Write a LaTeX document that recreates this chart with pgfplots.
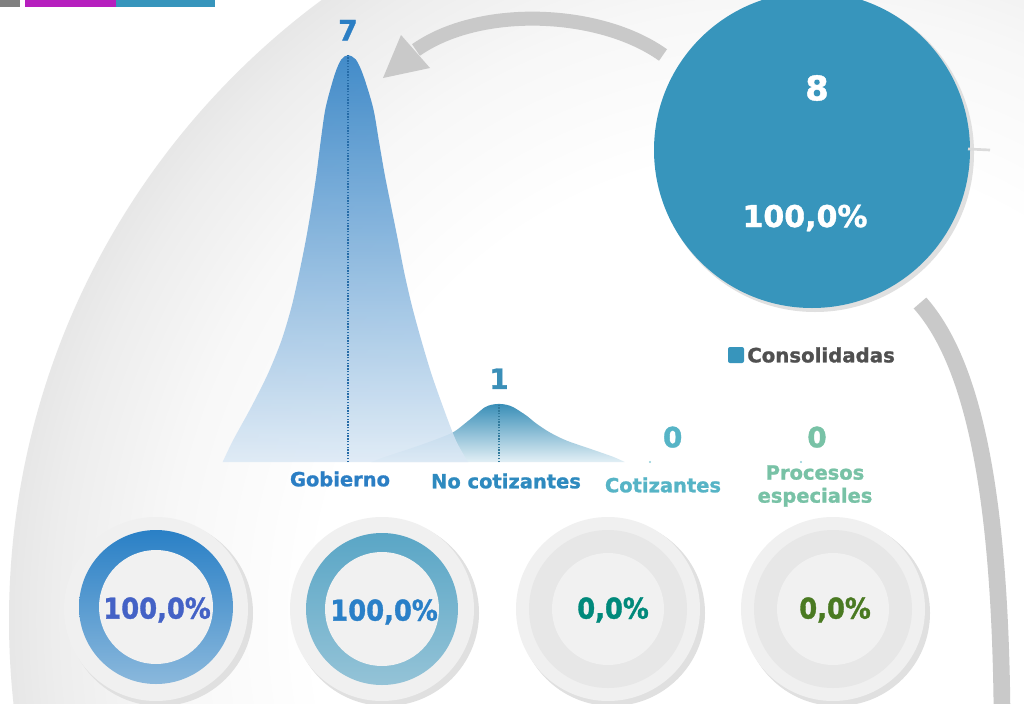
\documentclass[border=0pt]{standalone}
\usepackage{pgfplots}
\pgfplotsset{compat=1.18}
\usepackage{pgfplotstable}
\usepackage{fontspec}
\setmainfont{DejaVu Sans}[BoldFeatures={FakeBold=1.2}]
\newfontfamily\condfont{DejaVu Sans}[FakeStretch=0.9, BoldFeatures={FakeBold=1.2}]

\definecolor{gobBlue}{HTML}{2B7EC4}
\definecolor{gobBot}{HTML}{DCE9F5}
\definecolor{gobMid}{HTML}{84B6DE}
\definecolor{nocBlue}{HTML}{2E8ABF}
\definecolor{nocTop}{HTML}{3A8FB8}
\definecolor{nocMid}{HTML}{8EC2D6}
\definecolor{nocBot}{HTML}{E2EFF5}
\definecolor{cotTeal}{HTML}{56B4C6}
\definecolor{procGreen}{HTML}{78C2A6}
\definecolor{bigBlue}{HTML}{3795BC}
\definecolor{arcGray}{HTML}{C9C9C9}
\definecolor{legGray}{HTML}{505050}
\definecolor{barGray}{HTML}{808080}
\definecolor{barMag}{HTML}{B61FBE}
\definecolor{ringOneTop}{HTML}{2A80C6}
\definecolor{ringOneBot}{HTML}{8AB8DC}
\definecolor{ringTwoTop}{HTML}{5AA6C6}
\definecolor{ringTwoBot}{HTML}{94C3D7}
\definecolor{haloGray}{HTML}{F0F0F0}
\definecolor{innerGray}{HTML}{F1F1F1}
\definecolor{midGray}{HTML}{E7E7E7}
\definecolor{pctOne}{HTML}{4462C6}
\definecolor{pctTwo}{HTML}{2A80C8}
\definecolor{pctThree}{HTML}{00897B}
\definecolor{pctFour}{HTML}{4A7A22}

% tikz maps the path box onto the inner 50bp of the shading
\pgfdeclareradialshading{bgshade}{\pgfpoint{0bp}{0bp}}{%
  color(0bp)=(white); color(15bp)=(white); color(20bp)=(black!3);
  color(23.5bp)=(black!7); color(25bp)=(black!9.5); color(50bp)=(black!9.5)}

% counts per group
\pgfplotstableread{
x value
0 7
1 1
2 0
3 0
}\peaks

\tikzset{px/.style={x=0.75pt,y=-0.75pt}}

\begin{document}
\begin{tikzpicture}
\useasboundingbox (0,0) rectangle (768pt,-527.25pt);
\begin{scope}
\clip (0,0) rectangle (768pt,-527.25pt);

\begin{scope}[px]
\fill[white] (0,0) rectangle (1024,703);
\shade[shading=bgshade] (780,620) circle (771);

% top colour bar
\fill[barGray] (0,0) rectangle (20,7);
\fill[barMag] (25,0) rectangle (116,7);
\fill[bigBlue] (116,0) rectangle (215,7);

% grey arrows
\draw[arcGray, line width=10.5pt] (663,55) .. controls (600,10) and (480,5) .. (416,50);
\fill[arcGray] (383,78) -- (401,35) -- (430,68) -- cycle;
\draw[arcGray, line width=12.5pt] (920,303) .. controls (975,365) and (1000,500) .. (1002,712);

% total circle
\fill[black!12] (815,153) circle (159);
\fill[bigBlue] (812,150) circle (158);
\draw[black!14, line width=2pt] (968,149) -- (990,150);
\node[text=white, font=\bfseries\fontsize{25.5}{30}\selectfont] at (817,88) {8};
\node[text=white, font=\bfseries\fontsize{22.5}{27}\selectfont] at (805,218) {100,0\%};

% legend
\fill[bigBlue, rounded corners=1.5pt] (728,347) rectangle (744,363);
\node[anchor=west, inner sep=0, text=legGray, font=\bfseries\fontsize{14.8}{17}\selectfont] at (747,355) {Consolidadas};
\end{scope}

% peaks: axis box corner (xmin,ymin) sits at pixel (212.1,462)
\begin{axis}[at={(159.075pt,-346.5pt)}, anchor=south west, x=113.25pt, y=43.575pt,
    xmin=-0.9, xmax=3.6, ymin=0, ymax=7.5, hide axis, clip=false]
  \addplot[draw=none, smooth, tension=0.5, top color=nocTop, middle color=nocMid, bottom color=nocBot]
    coordinates {
      (0.155,0) (0.245,0.09) (0.411,0.23) (0.563,0.37) (0.695,0.51) (0.773,0.66)
      (0.839,0.80) (0.905,0.94) (0.95,0.985) (1,1) (1.05,0.985) (1.097,0.94) (1.181,0.80)
      (1.248,0.66) (1.336,0.51) (1.446,0.37) (1.601,0.23) (1.755,0.09) (1.832,0)
    } \closedcycle;
  \addplot[draw=none, smooth, tension=0.5, fill opacity=0.88, top color=gobBlue, middle color=gobMid, bottom color=gobBot]
    coordinates {
      (-0.83,0) (-0.762,0.37) (-0.640,0.95) (-0.530,1.52) (-0.441,2.09) (-0.375,2.66)
      (-0.325,3.23) (-0.280,3.81) (-0.242,4.38) (-0.209,4.95) (-0.181,5.52) (-0.148,6.10)
      (-0.088,6.67) (-0.044,6.93) (0,7) (0.051,6.93) (0.099,6.67) (0.166,6.10)
      (0.205,5.52) (0.243,4.95) (0.287,4.38) (0.331,3.81) (0.375,3.23) (0.426,2.66)
      (0.486,2.09) (0.552,1.52) (0.629,0.95) (0.715,0.37) (0.795,0)
    } \closedcycle;
  \addplot[ycomb, densely dotted, line width=1.1pt, draw=gobBlue!85!black, no marks] coordinates {(0,7)};
  \addplot[ycomb, densely dotted, line width=1.1pt, draw=nocTop!85!black, no marks] coordinates {(1,1)};
  \addplot[only marks, mark=*, mark size=0.5pt, draw=cotTeal!60, fill=cotTeal!60]
    table[x=x, y=value, restrict x to domain=1.5:3.5] {\peaks};

  \node[anchor=south, inner sep=0, yshift=11pt, text=gobBlue, font=\bfseries\fontsize{21}{25}\selectfont] at (axis cs:0,7) {7};
  \node[anchor=south, inner sep=0, yshift=11pt, text=nocTop, font=\bfseries\fontsize{21}{25}\selectfont] at (axis cs:1,1) {1};
  \node[anchor=south, inner sep=0, yshift=10.5pt, xshift=17pt, text=cotTeal, font=\bfseries\fontsize{21}{25}\selectfont] at (axis cs:2,0) {0};
  \node[anchor=south, inner sep=0, yshift=10.5pt, xshift=12pt, text=procGreen, font=\bfseries\fontsize{21}{25}\selectfont] at (axis cs:3,0) {0};
\end{axis}

\begin{scope}[px]
% category labels
\begin{scope}[every node/.style={font=\bfseries\fontsize{14.6}{17.3}\selectfont, align=center}]
\node[text=gobBlue] at (340,479) {Gobierno};
\node[text=nocBlue] at (506,481) {No cotizantes};
\node[text=cotTeal] at (663,485) {Cotizantes};
\node[text=procGreen] at (815,486) {Procesos\\especiales};
\end{scope}

% share donuts
\foreach \cx in {156,382,608,833} {
  \fill[black!12] (\cx+4,613) circle (93);
  \fill[haloGray] (\cx,609) circle (92);
}
\shade[top color=ringOneTop, bottom color=ringOneBot] (156,607) circle (77);
\fill[innerGray] (156,607) circle (57);
\shade[top color=ringTwoTop, bottom color=ringTwoBot] (382,609) circle (76);
\fill[innerGray] (382,609) circle (57);
\fill[midGray] (608,609) circle (79);
\fill[innerGray] (608,609) circle (56);
\fill[midGray] (833,609) circle (79);
\fill[innerGray] (833,609) circle (56);

\begin{scope}[every node/.style={font=\condfont\bfseries\fontsize{21.5}{25}\selectfont}]
\node[text=pctOne] at (157,610) {100,0\%};
\node[text=pctTwo] at (384,612) {100,0\%};
\node[text=pctThree] at (613,610) {0,0\%};
\node[text=pctFour] at (835,610) {0,0\%};
\end{scope}
\end{scope}
\end{scope}
\end{tikzpicture}
\end{document}
